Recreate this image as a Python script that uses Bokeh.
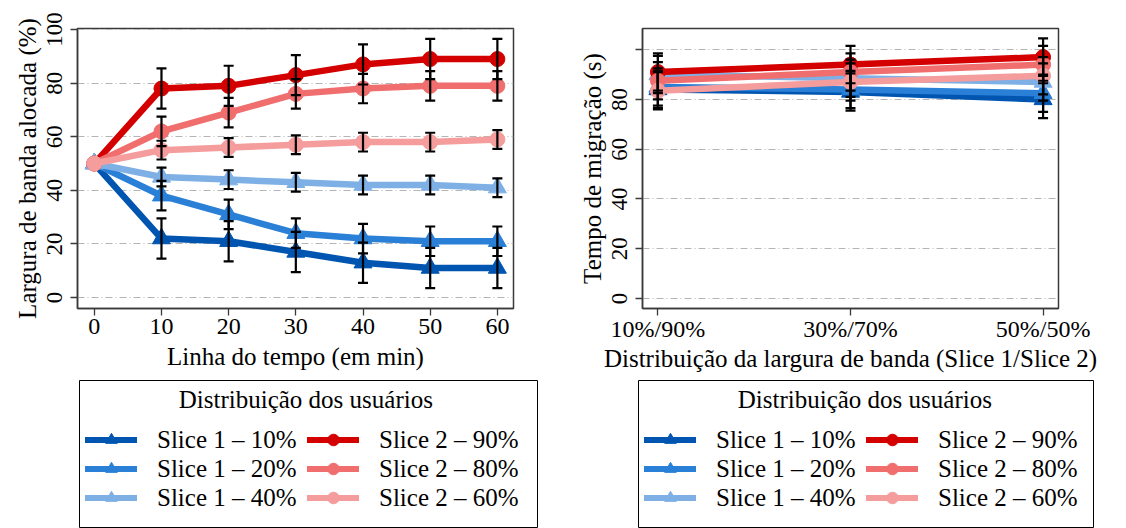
import math
from bokeh.plotting import figure
from bokeh.models import (ColumnDataSource, Whisker, TeeHead, Legend, LegendItem,
                          FixedTicker, Range1d)
from bokeh.layouts import row, column
from bokeh.embed import file_html
from bokeh.resources import INLINE

FONT = "Liberation Serif"

# ---------------- data: left panel ----------------
time_min = [0, 10, 20, 30, 40, 50, 60]
time_ticks = [0, 10, 20, 30, 40, 50, 60]
bw_s1_10 = [50, 22, 21, 17, 13, 11, 11]
bw_s1_20 = [50, 38, 31, 24, 22, 21, 21]
bw_s1_40 = [50, 45, 44, 43, 42, 42, 41]
bw_s2_90 = [50, 78, 79, 83, 87, 89, 89]
bw_s2_80 = [50, 62, 69, 76, 78, 79, 79]
bw_s2_60 = [50, 55, 56, 57, 58, 58, 59]
bw_err_s1_10 = [0, 7.5, 7.5, 7.5, 7.5, 7.5, 7.5]
bw_err_s1_20 = [0, 5.5, 5.5, 5.5, 5.5, 5.5, 5.5]
bw_err_s1_40 = [0, 3.5, 3.5, 3.5, 3.5, 3.5, 3.5]
bw_err_s2_90 = [0, 7.5, 7.5, 7.5, 7.5, 7.5, 7.5]
bw_err_s2_80 = [0, 5.5, 5.5, 5.5, 5.5, 5.5, 5.5]
bw_err_s2_60 = [0, 3.5, 3.5, 3.5, 3.5, 3.5, 3.5]
bw_yticks = [0, 20, 40, 60, 80, 100]

# ---------------- data: right panel ----------------
bw_split = ["10%/90%", "30%/70%", "50%/50%"]
mig_s1_10 = [84, 83, 80]
mig_s1_20 = [85, 84, 82.5]
mig_s1_40 = [90, 88.5, 87]
mig_s2_90 = [91, 94, 97]
mig_s2_80 = [87.5, 91, 94]
mig_s2_60 = [83.5, 87, 89.5]
mig_err_s1_10 = [7.5, 7.5, 7.5]
mig_err_s1_20 = [7.5, 7.5, 7.5]
mig_err_s1_40 = [7.5, 7.5, 7.5]
mig_err_s2_90 = [7.5, 7.5, 7.5]
mig_err_s2_80 = [7.5, 7.5, 7.5]
mig_err_s2_60 = [7.5, 7.5, 7.5]
mig_yticks = [0, 20, 40, 60, 80, 100]

series_labels = ["Slice 1 \u2013 10%", "Slice 1 \u2013 20%", "Slice 1 \u2013 40%",
                 "Slice 2 \u2013 90%", "Slice 2 \u2013 80%", "Slice 2 \u2013 60%"]
series_colors = ["#0055b0", "#2a7fd6", "#7eb0e6", "#d40000", "#f06e6e", "#f59c9c"]
series_markers = ["triangle", "triangle", "triangle", "circle", "circle", "circle"]
legend_title = "Distribui\u00e7\u00e3o dos usu\u00e1rios"

AX = "#3a3a3a"
TOP_H = 380
LEG_H = 528 - TOP_H


def style(p, lab_standoff, axlab_standoff):
    p.xgrid.visible = False
    p.ygrid.grid_line_color = "#b5b5b5"
    p.ygrid.grid_line_dash = "7 3 1 3"
    p.ygrid.grid_line_width = 1.2
    p.outline_line_color = AX
    p.outline_line_width = 1.5
    p.background_fill_color = "white"
    p.border_fill_color = "white"
    for ax in (p.xaxis[0], p.yaxis[0]):
        ax.axis_line_color = AX
        ax.axis_line_width = 1.5
        ax.major_tick_line_color = AX
        ax.major_tick_line_width = 1.3
        ax.major_tick_out = 7
        ax.major_tick_in = 0
        ax.minor_tick_line_color = None
        ax.major_label_text_font = FONT
        ax.major_label_text_color = "black"
        ax.axis_label_text_font = FONT
        ax.axis_label_text_font_style = "normal"
        ax.axis_label_text_font_size = "25px"
        ax.axis_label_text_color = "black"
    p.xaxis[0].major_label_text_font_size = "24px"
    p.xaxis[0].major_label_standoff = lab_standoff
    p.xaxis[0].axis_label_standoff = axlab_standoff
    p.yaxis[0].major_label_text_font_size = "23px"
    p.yaxis[0].major_label_orientation = "vertical"
    p.yaxis[0].major_label_standoff = 8
    p.yaxis[0].axis_label_standoff = 4


def add_series(p, xs, ys_list, errs_list):
    renderers = []
    for ys, errs, col, mk in zip(ys_list, errs_list, series_colors, series_markers):
        src = ColumnDataSource(dict(x=xs, y=ys))
        p.line("x", "y", source=src, line_color=col, line_width=6.5,
               line_join="round", line_cap="round")
        p.scatter("x", "y", source=src, marker=mk, size=18 if mk == "triangle" else 15,
                  fill_color=col, line_color=col, line_width=1)
        renderers.append((src, col, mk))
        bx = [x for x, e in zip(xs, errs) if e > 0]
        up = [y + e for y, e in zip(ys, errs) if e > 0]
        lo = [y - e for y, e in zip(ys, errs) if e > 0]
        wsrc = ColumnDataSource(dict(base=bx, upper=up, lower=lo))
        w = Whisker(source=wsrc, base="base", upper="upper", lower="lower",
                    dimension="height", line_color="black", line_width=2.2,
                    upper_head=TeeHead(size=10, line_color="black", line_width=2.2),
                    lower_head=TeeHead(size=10, line_color="black", line_width=2.2),
                    level="annotation")
        p.add_layout(w)
    return renderers


def legend_fig(left_border, right_border, series):
    # legend-only panel: the series are re-used, but the view range keeps them out of sight;
    # the panel's frame outline acts as the legend box (cut at the bottom like the original)
    lf = figure(width=563, height=LEG_H, x_range=Range1d(1000, 1001), y_range=Range1d(1000, 1001),
                output_backend="svg", toolbar_location=None,
                x_axis_location=None, y_axis_location=None,
                min_border_left=left_border, min_border_right=right_border,
                min_border_top=0, min_border_bottom=0)
    lf.grid.visible = False
    lf.outline_line_color = "black"
    lf.outline_line_width = 1
    lf.border_fill_color = "white"
    items = []
    for lab, (src, col, mk) in zip(series_labels, series):
        lr = lf.line("x", "y", source=src, line_color=col, line_width=6, line_cap="round")
        sr = lf.scatter("x", "y", source=src, marker=mk, size=14,
                        fill_color=col, line_color=col)
        items.append(LegendItem(label=lab, renderers=[lr, sr]))
    nb = "\u00a0" * 15
    lg = Legend(items=items, location="top_left", orientation="vertical",
                nrows=3, title=nb + legend_title)
    lg.title_text_font = FONT
    lg.title_text_font_size = "25px"
    lg.title_text_font_style = "normal"
    lg.title_text_color = "black"
    lg.title_standoff = 11
    lg.label_text_font = FONT
    lg.label_text_font_size = "25px"
    lg.label_text_color = "black"
    lg.glyph_width = 52
    lg.glyph_height = 29
    lg.label_height = 29
    lg.label_width = 150
    lg.spacing = 0
    lg.label_standoff = 20
    lg.padding = 0
    lg.margin = 6
    lg.border_line_color = None
    lg.background_fill_alpha = 0
    lf.add_layout(lg)
    return lf


# ---------------- left figure ----------------
p1 = figure(width=563, height=TOP_H, x_range=Range1d(-2.5, 62.4), y_range=Range1d(-4.1, 100.4),
            output_backend="svg", toolbar_location=None,
            min_border_left=77, min_border_right=50, min_border_top=28, min_border_bottom=72)
style(p1, 3, 6)
p1.xaxis[0].ticker = FixedTicker(ticks=time_ticks)
p1.yaxis[0].ticker = FixedTicker(ticks=bw_yticks)
p1.xaxis[0].axis_label = "Linha do tempo (em min)"
p1.yaxis[0].axis_label = "Largura de banda alocada (%)"
ser1 = add_series(p1, time_min,
                  [bw_s1_10, bw_s1_20, bw_s1_40, bw_s2_90, bw_s2_80, bw_s2_60],
                  [bw_err_s1_10, bw_err_s1_20, bw_err_s1_40, bw_err_s2_90, bw_err_s2_80, bw_err_s2_60])

# ---------------- right figure ----------------
xpos = list(range(len(bw_split)))
p2 = figure(width=563, height=TOP_H, x_range=Range1d(-0.08, 2.08), y_range=Range1d(-4, 108.5),
            output_backend="svg", toolbar_location=None,
            min_border_left=79, min_border_right=68, min_border_top=28, min_border_bottom=72)
style(p2, 0, 0)
p2.xaxis[0].ticker = FixedTicker(ticks=xpos)
p2.xaxis[0].major_label_overrides = {i: s for i, s in zip(xpos, bw_split)}
p2.yaxis[0].ticker = FixedTicker(ticks=mig_yticks)
p2.yaxis[0].major_label_overrides = {100: ""}
p2.xaxis[0].axis_label = "Distribui\u00e7\u00e3o da largura de banda (Slice 1/Slice 2)"
p2.yaxis[0].axis_label = "Tempo de migra\u00e7\u00e3o (s)"
ser2 = add_series(p2, xpos,
                  [mig_s1_10, mig_s1_20, mig_s1_40, mig_s2_90, mig_s2_80, mig_s2_60],
                  [mig_err_s1_10, mig_err_s1_20, mig_err_s1_40, mig_err_s2_90, mig_err_s2_80, mig_err_s2_60])

l1 = legend_fig(79, 26, ser1)
l2 = legend_fig(75, 33, ser2)

layout = column(row(p1, p2), row(l1, l2))
open("out.html", "w").write(file_html(layout, INLINE))
